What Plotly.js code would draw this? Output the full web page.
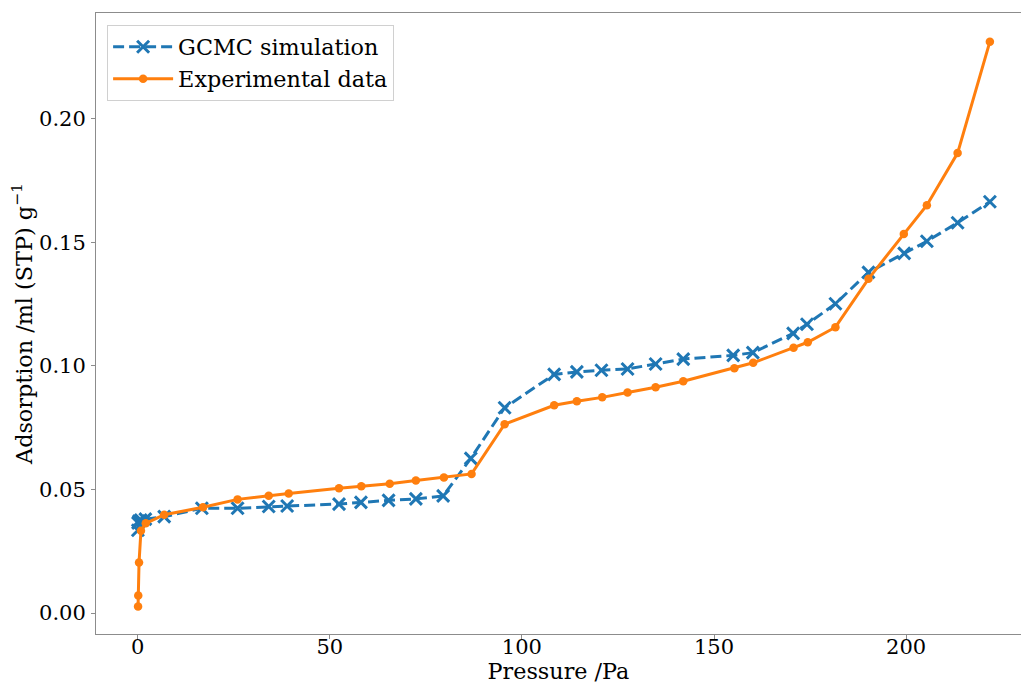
<!DOCTYPE html>
<html>
<head>
<meta charset="utf-8">
<script src="https://cdn.plot.ly/plotly-3.0.1.min.js"></script>
<style>html,body{margin:0;padding:0;background:#fff;}#chart{width:1021px;height:684px;}</style>
</head>
<body>
<div id="chart"></div>
<script>
const gcmcPressure = [0.05, 0.1, 0.3, 0.8, 2.0, 6.9, 16.7, 26.0, 34.1, 38.9, 52.4, 58.1, 65.3, 72.4, 79.5, 86.7, 95.5, 108.4, 114.3, 120.7, 127.5, 134.8, 142.0, 155.0, 160.1, 170.6, 174.2, 181.6, 190.2, 199.5, 205.4, 213.4, 221.8];
const gcmcAdsorption = [0.0335, 0.0365, 0.0372, 0.0376, 0.0380, 0.0390, 0.0424, 0.0424, 0.0431, 0.0433, 0.0441, 0.0448, 0.0456, 0.0462, 0.0474, 0.0626, 0.0831, 0.0966, 0.0976, 0.0983, 0.0988, 0.1008, 0.1028, 0.1043, 0.1054, 0.1132, 0.1169, 0.1252, 0.1379, 0.1456, 0.1505, 0.1580, 0.1665];
const expPressure = [0.1, 0.15, 0.35, 0.85, 2.1, 6.9, 17.0, 26.0, 34.1, 39.3, 52.4, 58.2, 65.6, 72.4, 79.7, 86.9, 95.5, 108.4, 114.3, 120.9, 127.5, 134.8, 142.0, 155.3, 160.2, 170.7, 174.4, 181.6, 190.2, 199.4, 205.4, 213.4, 221.8];
const expAdsorption = [0.0026, 0.0071, 0.0204, 0.0333, 0.0363, 0.0398, 0.0428, 0.0460, 0.0475, 0.0484, 0.0505, 0.0513, 0.0523, 0.0536, 0.0549, 0.0563, 0.0764, 0.0841, 0.0857, 0.0873, 0.0893, 0.0914, 0.0938, 0.0991, 0.1013, 0.1074, 0.1096, 0.1157, 0.1353, 0.1534, 0.1651, 0.1862, 0.2313];
const seriesNames = ["GCMC simulation", "Experimental data"];
const xTicks = [0, 50, 100, 150, 200];
const yTicks = [0.00, 0.05, 0.10, 0.15, 0.20];

const FONT = "DejaVu Serif, serif";
const TXT = 22.3;
const TICK = 21;
const traces = [
  {
    x: gcmcPressure, y: gcmcAdsorption, name: seriesNames[0], legendgroup: "g1",
    type: "scatter", mode: "lines+markers",
    line: {color: "#1f77b4", width: 3, dash: "11px,5px"},
    marker: {symbol: "x-thin", size: 12, color: "#1f77b4", line: {color: "#1f77b4", width: 3}}
  },
  {
    x: expPressure, y: expAdsorption, name: seriesNames[1], legendgroup: "g2",
    type: "scatter", mode: "lines+markers",
    line: {color: "#ff7f0e", width: 3},
    marker: {symbol: "circle", size: 8.5, color: "#ff7f0e"}
  }
];
const layout = {
  width: 1021, height: 684,
  margin: {l: 96, r: 0, t: 13, b: 50, pad: 0},
  paper_bgcolor: "#fff", plot_bgcolor: "#fff",
  font: {family: FONT, size: TXT, color: "#000"},
  showlegend: true,
  legend: {
    x: 0.012, y: 0.981, xanchor: "left", yanchor: "top",
    bgcolor: "rgba(255,255,255,0.8)", bordercolor: "#d0d0d0", borderwidth: 1,
    itemwidth: 60, tracegroupgap: 4, traceorder: "normal",
    font: {family: FONT, size: TXT, color: "#000"}
  },
  xaxis: {
    range: [-10.85, 229.9], tickvals: xTicks, ticktext: xTicks.map(String),
    showgrid: false, zeroline: false,
    showline: true, linecolor: "#8c8c8c", linewidth: 1, mirror: true,
    ticks: "outside", ticklen: 4, tickcolor: "#8c8c8c", tickwidth: 1,
    ticklabelstandoff: -10,
    tickfont: {family: FONT, size: TICK, color: "#000"},
    title: {text: "Pressure /Pa", font: {family: FONT, size: TXT, color: "#000"}, standoff: 4}
  },
  yaxis: {
    range: [-0.0085, 0.2429], tickvals: yTicks, ticktext: yTicks.map(v => v.toFixed(2)),
    showgrid: false, zeroline: false,
    showline: true, linecolor: "#8c8c8c", linewidth: 1, mirror: false,
    ticks: "outside", ticklen: 4, tickcolor: "#8c8c8c", tickwidth: 1,
    ticklabelstandoff: 1,
    tickfont: {family: FONT, size: TICK, color: "#000"},
    title: {text: "Adsorption /ml (STP) g<sup>−1</sup>", font: {family: FONT, size: TXT, color: "#000"}, standoff: 0}
  }
};
Plotly.newPlot("chart", traces, layout, {displayModeBar: false, staticPlot: true});
</script>
</body>
</html>
